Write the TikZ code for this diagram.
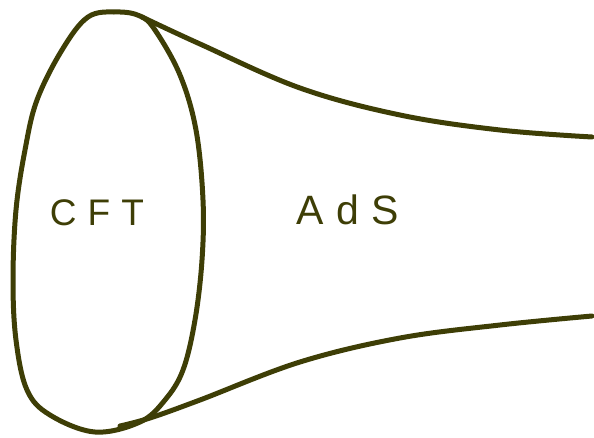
\documentclass[tikz,border=0pt]{standalone}
\usepackage{fontspec}
\usepackage{xcolor}
\usepackage{tikz}
\newfontfamily\handfont[LetterSpace=30]{Liberation Sans}
\definecolor{olive}{RGB}{62,62,6}

\begin{document}
\begin{tikzpicture}[x=1pt, y=1pt, line width=5pt, line join=round, line cap=round]
\useasboundingbox (0,0) rectangle (594,437);
% the boundary disc
\draw[olive] plot[smooth cycle, tension=0.6] coordinates {
  (117,425) (88,420) (62,387) (37,337) (25,287) (16,227) (13,157) (16,97)
  (27,47) (50,22) (95,5) (140,15) (165,37) (183,67) (195,117) (202,177)
  (203,237) (196,307) (180,362) (155,407) (140,421)};
% the throat
\draw[olive] plot[smooth, tension=0.6] coordinates {
  (142,420) (200,393) (300,349) (400,322) (500,307) (592,300)};
\draw[olive] plot[smooth, tension=0.6] coordinates {
  (120,11) (150,19) (200,37) (300,75) (400,99) (500,112) (592,121)};
% labels
\node[text=olive, font=\handfont\fontsize{37}{37}\selectfont] (cft) at (97,224) {CFT};
\node[text=olive, font=\handfont\fontsize{41}{41}\selectfont] (ads) at (348,227) {AdS};
\end{tikzpicture}
\end{document}
